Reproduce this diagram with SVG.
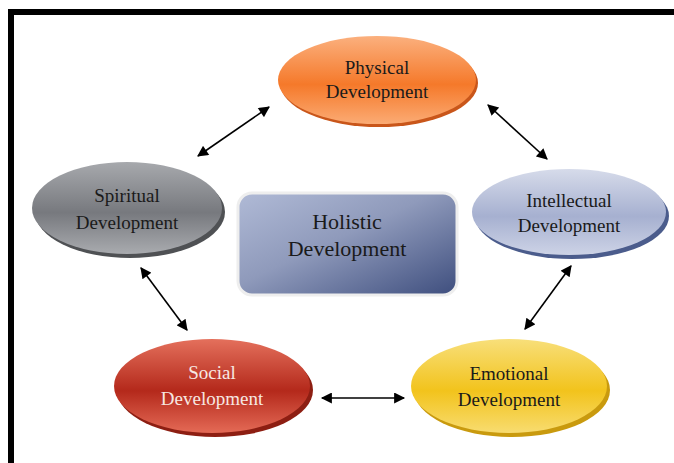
<svg xmlns="http://www.w3.org/2000/svg" width="674" height="463" viewBox="0 0 674 463">
<style>
.t{font-family:"Liberation Serif",serif;font-size:19px;fill:#1a1a1a;text-anchor:middle}
.tw{fill:#f7e8e2}
.th{font-size:22px}
.c{stroke:#000;stroke-width:1.6;fill:none;marker-start:url(#ah);marker-end:url(#ah)}
</style>
<defs>
<marker id="ah" viewBox="0 0 10 10" refX="9" refY="5" markerWidth="12" markerHeight="11" markerUnits="userSpaceOnUse" orient="auto-start-reverse"><path d="M0,0 L10,5 L0,10 z" fill="#000"/></marker>
<linearGradient id="gO" x1="0" y1="0" x2="0" y2="1"><stop offset="0" stop-color="#fbb07e"/><stop offset="0.55" stop-color="#f5792a"/><stop offset="1" stop-color="#fbab74"/></linearGradient>
<linearGradient id="gG" x1="0" y1="0" x2="0" y2="1"><stop offset="0" stop-color="#a7a9ad"/><stop offset="0.55" stop-color="#77797e"/><stop offset="1" stop-color="#a9abaf"/></linearGradient>
<linearGradient id="gB" x1="0" y1="0" x2="0" y2="1"><stop offset="0" stop-color="#d6dbea"/><stop offset="0.55" stop-color="#a6b0d0"/><stop offset="1" stop-color="#cdd3e6"/></linearGradient>
<linearGradient id="gR" x1="0" y1="0" x2="0" y2="1"><stop offset="0" stop-color="#e4705c"/><stop offset="0.55" stop-color="#b4291b"/><stop offset="1" stop-color="#e46a56"/></linearGradient>
<linearGradient id="gY" x1="0" y1="0" x2="0" y2="1"><stop offset="0" stop-color="#f8df7a"/><stop offset="0.55" stop-color="#f2c31c"/><stop offset="1" stop-color="#f8dc70"/></linearGradient>
<linearGradient id="gH" x1="0" y1="0" x2="1" y2="1"><stop offset="0" stop-color="#b0bad6"/><stop offset="0.45" stop-color="#8f9abb"/><stop offset="1" stop-color="#3e4e7e"/></linearGradient>
</defs>
<rect width="674" height="463" fill="#fff"/>
<path d="M11,470 V12 H680" fill="none" stroke="#000" stroke-width="6"/>
<g id="connectors">
<line class="c" x1="198" y1="156" x2="269" y2="107"/>
<line class="c" x1="488" y1="105" x2="547" y2="159"/>
<line class="c" x1="141" y1="268" x2="187" y2="330"/>
<line class="c" x1="571" y1="266" x2="525" y2="329"/>
<line class="c" x1="322" y1="398" x2="404" y2="398"/>
</g>
<g id="holistic">
<rect x="238" y="193" width="219" height="102" rx="14" fill="url(#gH)" stroke="#eeeeee" stroke-width="3"/>
<text class="t th" x="347" y="229">Holistic</text>
<text class="t th" x="347" y="256">Development</text>
</g>
<g id="physical">
<ellipse cx="379" cy="83" rx="99" ry="44" fill="#c9561a"/>
<ellipse cx="377" cy="80" rx="99" ry="44" fill="url(#gO)"/>
<text class="t" x="377" y="74">Physical</text>
<text class="t" x="377" y="98">Development</text>
</g>
<g id="spiritual">
<ellipse cx="130" cy="212" rx="95" ry="46" fill="#4f5154"/>
<ellipse cx="127" cy="208" rx="95" ry="46" fill="url(#gG)"/>
<text class="t" x="127" y="202">Spiritual</text>
<text class="t" x="127" y="229">Development</text>
</g>
<g id="intellectual">
<ellipse cx="572" cy="216" rx="97" ry="43" fill="#4b5c8c"/>
<ellipse cx="569" cy="212" rx="97" ry="43" fill="url(#gB)"/>
<text class="t" x="569" y="207">Intellectual</text>
<text class="t" x="569" y="232">Development</text>
</g>
<g id="social">
<ellipse cx="215" cy="390" rx="98" ry="47" fill="#8d1e12"/>
<ellipse cx="212" cy="386" rx="98" ry="47" fill="url(#gR)"/>
<text class="t tw" x="212" y="379">Social</text>
<text class="t tw" x="212" y="405">Development</text>
</g>
<g id="emotional">
<ellipse cx="512" cy="390" rx="98" ry="47" fill="#c99a0e"/>
<ellipse cx="509" cy="386" rx="98" ry="47" fill="url(#gY)"/>
<text class="t" x="509" y="380">Emotional</text>
<text class="t" x="509" y="406">Development</text>
</g>
</svg>
